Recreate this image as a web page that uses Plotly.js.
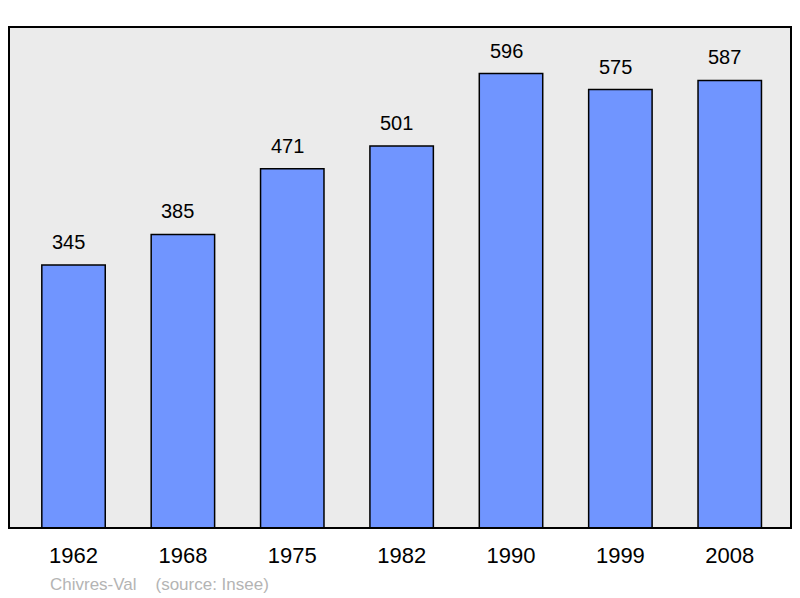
<!DOCTYPE html>
<html>
<head>
<meta charset="utf-8">
<script src="https://cdn.plot.ly/plotly-3.0.1.min.js"></script>
<style>
  html, body { margin: 0; padding: 0; background: #fff; }
  #chart { width: 800px; height: 598px; }
</style>
</head>
<body>
<div id="chart"></div>
<script>
const years = ['1962', '1968', '1975', '1982', '1990', '1999', '2008'];
const population = [345, 385, 471, 501, 596, 575, 587];
const commune = 'Chivres-Val';
const source = '(source: Insee)';

const FONT = 'Liberation Sans, Arial, sans-serif';

// value labels above each bar (x by category index, '1962' would be read as a number)
const labels = population.map(function (v, i) {
  return {
    x: i,
    y: v,
    text: String(v),
    showarrow: false,
    yanchor: 'bottom',
    yshift: 10,
    xshift: -5,
    font: { family: FONT, size: 20, color: '#000' }
  };
});

labels.push({
  xref: 'paper', yref: 'paper',
  x: 0.05, y: -0.112,
  xanchor: 'left', yanchor: 'middle',
  showarrow: false,
  text: commune + '&nbsp;&nbsp;&nbsp;&nbsp;' + source,
  font: { family: FONT, size: 17, color: '#b4b4b4' }
});

const bars = {
  type: 'bar',
  x: years,
  y: population,
  width: 0.58,
  marker: { color: '#7095ff', line: { color: '#000', width: 1.5 } },
  hoverinfo: 'none'
};

const layout = {
  width: 800,
  height: 598,
  margin: { l: 9, r: 9, t: 27, b: 70 },
  paper_bgcolor: '#fff',
  plot_bgcolor: '#ebebeb',
  showlegend: false,
  xaxis: {
    type: 'category',
    range: [-0.59, 6.56],
    showgrid: false,
    zeroline: false,
    ticks: '',
    ticklabelstandoff: 12,
    tickfont: { family: FONT, size: 22, color: '#000' }
  },
  yaxis: {
    range: [0, 657],
    showgrid: false,
    zeroline: false,
    showticklabels: false,
    ticks: ''
  },
  shapes: [{
    type: 'rect', xref: 'paper', yref: 'paper',
    x0: 0, x1: 1, y0: 0, y1: 1,
    line: { color: '#000', width: 2 }
  }],
  annotations: labels
};

Plotly.newPlot('chart', [bars], layout, { staticPlot: true });
</script>
</body>
</html>
